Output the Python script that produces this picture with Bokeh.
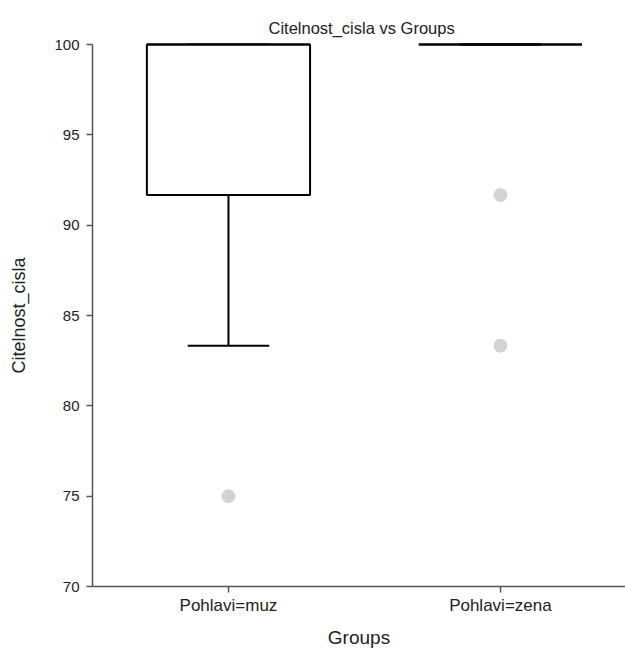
from bokeh.plotting import figure
from bokeh.models import FixedTicker, ColumnDataSource
from bokeh.embed import file_html
from bokeh.resources import INLINE

# Box-plot summary per group
groups = ["Pohlavi=muz", "Pohlavi=zena"]
q1 = [91.67, 100.0]
median = [100.0, 100.0]
q3 = [100.0, 100.0]
lower_whisker = [83.33, 100.0]
upper_whisker = [100.0, 100.0]

# Points beyond the whiskers
outlier_group = ["Pohlavi=muz", "Pohlavi=zena", "Pohlavi=zena"]
outlier_values = [75.0, 91.67, 83.33]

y_ticks = [70, 75, 80, 85, 90, 95, 100]

FONT = "Liberation Sans"
BOX_W = 0.6
CAP_W = 0.3

xpos = list(range(len(groups)))
box_src = ColumnDataSource(dict(
    x=xpos, q1=q1, q3=q3, med=median, lo=lower_whisker, hi=upper_whisker,
    left=[x - BOX_W / 2 for x in xpos], right=[x + BOX_W / 2 for x in xpos],
    cl=[x - CAP_W / 2 for x in xpos], cr=[x + CAP_W / 2 for x in xpos],
))
out_src = ColumnDataSource(dict(
    x=[groups.index(g) for g in outlier_group], y=outlier_values,
))

p = figure(width=625, height=650, x_range=(-0.5, 1.46), y_range=(70, 100),
           output_backend="svg", toolbar_location=None,
           min_border_left=92, min_border_right=0,
           min_border_top=44, min_border_bottom=60,
           title="Citelnost_cisla vs Groups")
p.outline_line_color = None
p.grid.visible = False
p.background_fill_color = "white"

p.title.align = "left"
p.title.offset = 176
p.title.text_font = FONT
p.title.text_font_size = "16.5px"
p.title.text_font_style = "normal"
p.title.text_color = "#222222"
p.title.standoff = 15

# whiskers
r1 = p.segment(x0="x", y0="q1", x1="x", y1="lo", source=box_src,
               line_color="black", line_width=2)
r2 = p.segment(x0="x", y0="q3", x1="x", y1="hi", source=box_src,
               line_color="black", line_width=2)
r3 = p.segment(x0="cl", y0="lo", x1="cr", y1="lo", source=box_src,
               line_color="black", line_width=2)
r4 = p.segment(x0="cl", y0="hi", x1="cr", y1="hi", source=box_src,
               line_color="black", line_width=2)
# boxes
r5 = p.quad(left="left", right="right", bottom="q1", top="q3", source=box_src,
            fill_color="white", line_color="black", line_width=2)
# medians
r6 = p.segment(x0="left", y0="med", x1="right", y1="med", source=box_src,
               line_color="black", line_width=2)
# outliers
r7 = p.scatter(x="x", y="y", source=out_src, size=13,
               fill_color="#d3d3d3", line_color="#d3d3d3")
for r in (r1, r2, r3, r4, r5, r6, r7):
    r.level = "overlay"

# axes
for ax in (p.xaxis[0], p.yaxis[0]):
    ax.axis_line_color = "#555555"
    ax.axis_line_width = 1.5
    ax.major_tick_line_color = "#555555"
    ax.major_tick_line_width = 1.5
    ax.major_tick_out = 6
    ax.major_tick_in = 0
    ax.minor_tick_line_color = None
    ax.major_label_text_font = FONT
    ax.major_label_text_color = "#222222"
    ax.axis_label_text_font = FONT
    ax.axis_label_text_font_style = "normal"
    ax.axis_label_text_color = "#222222"

p.yaxis.major_label_text_font_size = "15px"
p.xaxis.major_label_text_font_size = "17px"

p.yaxis.ticker = FixedTicker(ticks=y_ticks)
p.yaxis.major_label_standoff = 7
p.yaxis.axis_label = "Citelnost_cisla"
p.yaxis.axis_label_text_font_size = "18px"
p.yaxis.axis_label_standoff = 22

p.xaxis.ticker = FixedTicker(ticks=xpos)
p.xaxis.major_label_overrides = {x: g for x, g in zip(xpos, groups)}
p.xaxis.major_label_standoff = 3
p.xaxis.axis_label = "Groups"
p.xaxis.axis_label_text_font_size = "19px"
p.xaxis.axis_label_standoff = 9

open("out.html", "w").write(file_html(p, INLINE))
